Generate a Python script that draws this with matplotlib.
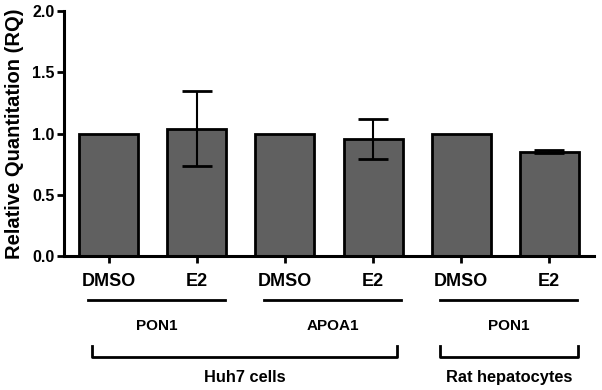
import matplotlib
matplotlib.use('Agg')
import matplotlib.pyplot as plt
from matplotlib import transforms

plt.rcParams['font.family'] = ['Liberation Sans', 'DejaVu Sans']
plt.rcParams['font.weight'] = 'bold'

treatments = ['DMSO', 'E2', 'DMSO', 'E2', 'DMSO', 'E2']
rq = [1.0, 1.04, 1.0, 0.955, 1.0, 0.85]
rq_err = [0.0, 0.305, 0.0, 0.16, 0.0, 0.012]
genes = ['PON1', 'APOA1', 'PON1']
cells = ['Huh7 cells', 'Rat hepatocytes']

fig = plt.figure(figsize=(6.02, 3.9), dpi=100)
ax = fig.add_axes([64 / 602, 1 - 256 / 390, 530 / 602, 245 / 390])

pos = list(range(len(rq)))
ax.bar(pos, rq, width=0.67, color='#606060', edgecolor='black', linewidth=2, zorder=2)
ax.errorbar(pos[1::2], rq[1::2], yerr=rq_err[1::2], fmt='none', ecolor='black',
            elinewidth=1.5, capsize=11, capthick=2, zorder=3)

ax.set_xlim(-0.51, 5.51)
ax.set_ylim(0, 2.0)
ax.set_yticks([0.0, 0.5, 1.0, 1.5, 2.0])
ax.set_yticklabels(['0.0', '0.5', '1.0', '1.5', '2.0'], fontsize=11.5, fontweight='bold')
ax.set_xticks(pos)
ax.set_xticklabels(treatments, fontsize=13, fontweight='bold')
ax.tick_params(axis='both', direction='out', length=5, width=2)
ax.tick_params(axis='y', pad=2)
ax.tick_params(axis='x', pad=7)
ax.set_ylabel('Relative Quantitation (RQ)', fontsize=14.5, fontweight='bold')
ax.yaxis.set_label_coords(-0.076, 0.5)
for s in ['top', 'right']:
    ax.spines[s].set_visible(False)
for s in ['left', 'bottom']:
    ax.spines[s].set_linewidth(2.2)

tr = transforms.blended_transform_factory(ax.transData, fig.transFigure)

# gene lines and labels
for i, g in enumerate(genes):
    a = pos[2 * i]
    fig.add_artist(plt.Line2D([a - 0.24, a + 1.32], [0.231, 0.231], transform=tr,
                              color='black', linewidth=2))
    fig.text(a + 0.54, 0.164, g, transform=tr, ha='center', va='center',
             fontsize=11, fontweight='bold')

# cell-type brackets
brackets = [(pos[0] - 0.19, pos[3] + 0.27), (pos[4] - 0.24, pos[5] + 0.33)]
for (x0, x1), c in zip(brackets, cells):
    fig.add_artist(plt.Line2D([x0, x0, x1, x1], [0.113, 0.085, 0.085, 0.113],
                              transform=tr, color='black', linewidth=2))
    fig.text((x0 + x1) / 2, 0.033, c, transform=tr, ha='center', va='center',
             fontsize=11.8, fontweight='bold')

fig.savefig('out.png', dpi=100)
